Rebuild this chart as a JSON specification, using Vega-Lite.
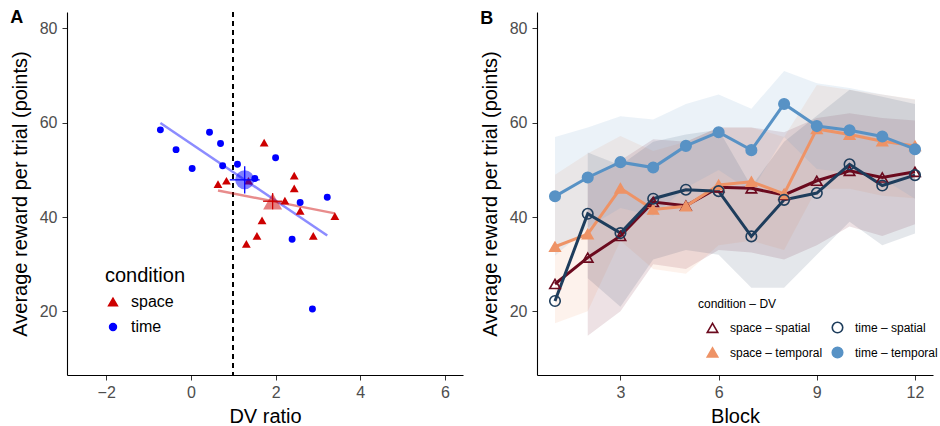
{
  "$schema": "https://vega.github.io/schema/vega-lite/v6.json",
  "padding": {"left": 10, "top": 9, "right": 0, "bottom": 0},
  "spacing": 17,
  "resolve": {
    "scale": {"color": "independent", "shape": "independent", "size": "independent", "fill": "independent", "stroke": "independent", "x": "independent", "y": "independent"},
    "legend": {"color": "independent", "shape": "independent", "size": "independent", "fill": "independent", "stroke": "independent"}
  },
  "config": {
    "font": "Liberation Sans",
    "view": {"stroke": null},
    "axis": {
      "grid": false,
      "domainColor": "black",
      "domainWidth": 1.1,
      "tickColor": "#333333",
      "tickSize": 5,
      "labelFontSize": 16,
      "labelColor": "#4d4d4d",
      "labelPadding": 4,
      "titleFontSize": 20,
      "titleFontWeight": "normal",
      "titleColor": "black"
    },
    "axisY": {"titlePadding": 9, "labelPadding": 5},
    "axisX": {"titlePadding": 6},
    "title": {"fontSize": 18, "fontWeight": "bold", "anchor": "start", "frame": "bounds", "offset": -16}
  },
  "hconcat": [
    {
      "title": "A",
      "width": 396,
      "height": 363,
      "data": {
        "values": [
          {"condition": "time", "ratio": -0.72, "reward": 58.5},
          {"condition": "time", "ratio": -0.35, "reward": 54.3},
          {"condition": "time", "ratio": 0.03, "reward": 50.3},
          {"condition": "time", "ratio": 0.44, "reward": 58.0},
          {"condition": "time", "ratio": 0.70, "reward": 55.6},
          {"condition": "time", "ratio": 0.75, "reward": 50.9},
          {"condition": "time", "ratio": 1.10, "reward": 51.2},
          {"condition": "time", "ratio": 1.51, "reward": 48.2},
          {"condition": "time", "ratio": 2.00, "reward": 52.6},
          {"condition": "time", "ratio": 2.58, "reward": 43.1},
          {"condition": "time", "ratio": 3.22, "reward": 44.2},
          {"condition": "time", "ratio": 2.39, "reward": 35.3},
          {"condition": "time", "ratio": 2.87, "reward": 20.5},
          {"condition": "space", "ratio": 0.64, "reward": 47.0},
          {"condition": "space", "ratio": 0.84, "reward": 47.7},
          {"condition": "space", "ratio": 1.36, "reward": 47.7},
          {"condition": "space", "ratio": 1.73, "reward": 55.8},
          {"condition": "space", "ratio": 2.44, "reward": 48.8},
          {"condition": "space", "ratio": 2.44, "reward": 46.1},
          {"condition": "space", "ratio": 2.22, "reward": 43.5},
          {"condition": "space", "ratio": 2.58, "reward": 41.3},
          {"condition": "space", "ratio": 3.40, "reward": 40.2},
          {"condition": "space", "ratio": 1.68, "reward": 39.3},
          {"condition": "space", "ratio": 1.56, "reward": 36.0},
          {"condition": "space", "ratio": 1.31, "reward": 34.3},
          {"condition": "space", "ratio": 2.89, "reward": 36.0}
        ]
      },
      "encoding": {
        "x": {
          "field": "ratio", "type": "quantitative", "title": "DV ratio",
          "scale": {"domain": [-2.925, 6.425], "nice": false, "zero": false},
          "axis": {"values": [-2, 0, 2, 4, 6]}
        },
        "y": {
          "field": "reward", "type": "quantitative", "title": "Average reward per trial (points)",
          "scale": {"domain": [6.5, 83.5], "nice": false, "zero": false},
          "axis": {"values": [20, 40, 60, 80]}
        },
        "color": {"field": "condition", "type": "nominal",
          "scale": {"domain": ["space", "time"], "range": ["#cd0000", "#0000ff"]},
          "legend": {
            "title": "condition", "orient": "none", "legendX": 38, "legendY": 254,
            "titleFontSize": 20, "titleFontWeight": "normal", "titleColor": "black",
            "labelFontSize": 16, "labelColor": "black",
            "symbolOpacity": 1, "rowPadding": 9, "titlePadding": 8, "labelOffset": 10
          }}
      },
      "layer": [
        {
          "mark": {"type": "rule", "strokeDash": [5, 4], "color": "black", "strokeWidth": 1.2},
          "encoding": {"x": {"datum": 1}, "y": null, "color": null}
        },
        {
          "transform": [{"regression": "reward", "on": "ratio", "groupby": ["condition"]}],
          "mark": {"type": "line", "strokeWidth": 2.5, "opacity": 0.45},
          "encoding": {}
        },
        {
          "mark": {"type": "point", "filled": true, "opacity": 1},
          "encoding": {
            "shape": {"field": "condition", "type": "nominal",
              "scale": {"domain": ["space", "time"], "range": ["triangle-up", "circle"]},
              "legend": {
                "title": "condition", "orient": "none", "legendX": 38, "legendY": 254,
                "titleFontSize": 20, "titleFontWeight": "normal", "titleColor": "black",
                "labelFontSize": 16, "labelColor": "black",
                "symbolOpacity": 1, "rowPadding": 9, "titlePadding": 8, "labelOffset": 10
              }},
            "size": {"field": "condition", "type": "nominal",
              "scale": {"domain": ["space", "time"], "range": [78, 48]},
              "legend": {
                "title": "condition", "orient": "none", "legendX": 38, "legendY": 254,
                "titleFontSize": 20, "titleFontWeight": "normal", "titleColor": "black",
                "labelFontSize": 16, "labelColor": "black",
                "symbolOpacity": 1, "rowPadding": 9, "titlePadding": 8, "labelOffset": 10
              }}
          }
        },
        {
          "transform": [{"aggregate": [
            {"op": "mean", "field": "ratio", "as": "mx"},
            {"op": "mean", "field": "reward", "as": "my"},
            {"op": "stderr", "field": "ratio", "as": "sx"},
            {"op": "stderr", "field": "reward", "as": "sy"}
          ], "groupby": ["condition"]}],
          "layer": [
            {
              "mark": {"type": "point", "filled": true, "size": 360, "opacity": 0.5},
              "encoding": {
                "x": {"field": "mx", "type": "quantitative"},
                "y": {"field": "my", "type": "quantitative"},
                "shape": {"field": "condition", "type": "nominal"}
              }
            },
            {
              "mark": {"type": "errorbar", "thickness": 1.3},
              "encoding": {
                "x": {"field": "mx", "type": "quantitative"},
                "y": {"field": "my", "type": "quantitative"},
                "yError": {"field": "sy"}
              }
            },
            {
              "mark": {"type": "errorbar", "thickness": 1.3},
              "encoding": {
                "y": {"field": "my", "type": "quantitative"},
                "x": {"field": "mx", "type": "quantitative"},
                "xError": {"field": "sx"}
              }
            }
          ]
        }
      ]
    },
    {
      "title": "B",
      "width": 396,
      "height": 363,
      "data": {
        "values": [
          {"block": 1, "series": "space – spatial", "reward": 25.8, "lo": null, "hi": null},
          {"block": 2, "series": "space – spatial", "reward": 31.4, "lo": 14.8, "hi": 48.0},
          {"block": 3, "series": "space – spatial", "reward": 36.0, "lo": 20.0, "hi": 52.0},
          {"block": 4, "series": "space – spatial", "reward": 43.2, "lo": 30.0, "hi": 56.5},
          {"block": 5, "series": "space – spatial", "reward": 42.4, "lo": 29.0, "hi": 56.0},
          {"block": 6, "series": "space – spatial", "reward": 46.3, "lo": 33.0, "hi": 59.0},
          {"block": 7, "series": "space – spatial", "reward": 46.1, "lo": 32.5, "hi": 59.0},
          {"block": 8, "series": "space – spatial", "reward": 44.7, "lo": 31.0, "hi": 58.0},
          {"block": 9, "series": "space – spatial", "reward": 47.7, "lo": 34.0, "hi": 61.0},
          {"block": 10, "series": "space – spatial", "reward": 49.8, "lo": 38.0, "hi": 62.0},
          {"block": 11, "series": "space – spatial", "reward": 48.4, "lo": 36.0, "hi": 61.0},
          {"block": 12, "series": "space – spatial", "reward": 49.6, "lo": 38.5, "hi": 60.5},
          {"block": 1, "series": "space – temporal", "reward": 33.7, "lo": 17.5, "hi": 49.0},
          {"block": 2, "series": "space – temporal", "reward": 36.4, "lo": 20.0, "hi": 53.5},
          {"block": 3, "series": "space – temporal", "reward": 46.1, "lo": 35.0, "hi": 57.2},
          {"block": 4, "series": "space – temporal", "reward": 41.6, "lo": 29.0, "hi": 54.0},
          {"block": 5, "series": "space – temporal", "reward": 42.3, "lo": 28.0, "hi": 56.0},
          {"block": 6, "series": "space – temporal", "reward": 46.8, "lo": 34.0, "hi": 59.0},
          {"block": 7, "series": "space – temporal", "reward": 47.5, "lo": 35.0, "hi": 59.0},
          {"block": 8, "series": "space – temporal", "reward": 44.9, "lo": 33.0, "hi": 57.0},
          {"block": 9, "series": "space – temporal", "reward": 58.7, "lo": 46.0, "hi": 68.0},
          {"block": 10, "series": "space – temporal", "reward": 57.5, "lo": 46.0, "hi": 67.0},
          {"block": 11, "series": "space – temporal", "reward": 56.1, "lo": 44.5, "hi": 66.0},
          {"block": 12, "series": "space – temporal", "reward": 55.1, "lo": 44.0, "hi": 65.0},
          {"block": 1, "series": "time – spatial", "reward": 22.2, "lo": null, "hi": null},
          {"block": 2, "series": "time – spatial", "reward": 40.7, "lo": 27.0, "hi": 53.7},
          {"block": 3, "series": "time – spatial", "reward": 36.6, "lo": 21.0, "hi": 51.0},
          {"block": 4, "series": "time – spatial", "reward": 43.9, "lo": 31.0, "hi": 56.0},
          {"block": 5, "series": "time – spatial", "reward": 45.8, "lo": 33.0, "hi": 57.5},
          {"block": 6, "series": "time – spatial", "reward": 45.5, "lo": 32.0, "hi": 58.5},
          {"block": 7, "series": "time – spatial", "reward": 35.9, "lo": 25.0, "hi": 46.5},
          {"block": 8, "series": "time – spatial", "reward": 43.65, "lo": 25.0, "hi": 56.0},
          {"block": 9, "series": "time – spatial", "reward": 45.1, "lo": 32.0, "hi": 61.5},
          {"block": 10, "series": "time – spatial", "reward": 51.2, "lo": 39.0, "hi": 67.0},
          {"block": 11, "series": "time – spatial", "reward": 46.7, "lo": 34.0, "hi": 65.5},
          {"block": 12, "series": "time – spatial", "reward": 48.9, "lo": 36.5, "hi": 64.0},
          {"block": 1, "series": "time – temporal", "reward": 44.4, "lo": 31.8, "hi": 57.0},
          {"block": 2, "series": "time – temporal", "reward": 48.4, "lo": 37.8, "hi": 59.0},
          {"block": 3, "series": "time – temporal", "reward": 51.65, "lo": 41.9, "hi": 61.4},
          {"block": 4, "series": "time – temporal", "reward": 50.5, "lo": 40.3, "hi": 60.7},
          {"block": 5, "series": "time – temporal", "reward": 55.1, "lo": 46.2, "hi": 64.0},
          {"block": 6, "series": "time – temporal", "reward": 58.0, "lo": 50.0, "hi": 66.0},
          {"block": 7, "series": "time – temporal", "reward": 54.2, "lo": 45.4, "hi": 63.0},
          {"block": 8, "series": "time – temporal", "reward": 64.0, "lo": 57.0, "hi": 71.0},
          {"block": 9, "series": "time – temporal", "reward": 59.3, "lo": 50.2, "hi": 68.4},
          {"block": 10, "series": "time – temporal", "reward": 58.4, "lo": 49.4, "hi": 67.4},
          {"block": 11, "series": "time – temporal", "reward": 57.1, "lo": 48.2, "hi": 66.0},
          {"block": 12, "series": "time – temporal", "reward": 54.4, "lo": 43.9, "hi": 64.9}
        ]
      },
      "encoding": {
        "x": {
          "field": "block", "type": "quantitative", "title": "Block",
          "scale": {"domain": [0.45, 12.55], "nice": false, "zero": false},
          "axis": {"values": [3, 6, 9, 12]}
        },
        "y": {"field": "reward", "type": "quantitative", "title": "Average reward per trial (points)",
          "scale": {"domain": [6.5, 83.5], "nice": false, "zero": false},
          "axis": {"values": [20, 40, 60, 80]}}
      },
      "layer": [
        {
          "transform": [{"filter": "datum.lo != null"}],
          "mark": {"type": "area", "opacity": 0.12},
          "encoding": {
            "y": {"field": "lo", "type": "quantitative"},
            "y2": {"field": "hi"},
            "color": {"field": "series", "type": "nominal", "legend": null,
              "scale": {"domain": ["time – temporal", "time – spatial", "space – temporal", "space – spatial"],
                "range": ["#5892c5", "#1e3d5c", "#ee9366", "#6b0a1e"]}}
          }
        },
        {
          "mark": {"type": "line", "strokeWidth": 3},
          "encoding": {
            "color": {"field": "series", "type": "nominal", "legend": null}
          }
        },
        {
          "mark": {"type": "point", "size": 110, "strokeWidth": 1.6, "opacity": 1},
          "encoding": {
            "stroke": {"field": "series", "type": "nominal",
              "scale": {"domain": ["space – spatial", "space – temporal", "time – spatial", "time – temporal"],
                "range": ["#6b0a1e", "#ee9366", "#1e3d5c", "#5892c5"]},
              "legend": {
                "title": "condition – DV", "orient": "none", "legendX": 161, "legendY": 287,
                "columns": 2, "columnPadding": -5, "rowPadding": 8,
                "titleFontSize": 12, "titleFontWeight": "normal", "titleColor": "black",
                "labelFontSize": 12, "labelColor": "black", "symbolSize": 110,
                "symbolStrokeWidth": 1.6, "symbolOpacity": 1, "symbolOffset": 8,
                "labelOffset": 11, "titlePadding": 10
              }},
            "fill": {"field": "series", "type": "nominal",
              "scale": {"domain": ["space – spatial", "space – temporal", "time – spatial", "time – temporal"],
                "range": ["transparent", "#ee9366", "transparent", "#5892c5"]},
              "legend": {
                "title": "condition – DV", "orient": "none", "legendX": 161, "legendY": 287,
                "columns": 2, "columnPadding": -5, "rowPadding": 8,
                "titleFontSize": 12, "titleFontWeight": "normal", "titleColor": "black",
                "labelFontSize": 12, "labelColor": "black", "symbolSize": 110,
                "symbolStrokeWidth": 1.6, "symbolOpacity": 1, "symbolOffset": 8,
                "labelOffset": 11, "titlePadding": 10
              }},
            "shape": {"field": "series", "type": "nominal",
              "scale": {"domain": ["space – spatial", "space – temporal", "time – spatial", "time – temporal"],
                "range": ["triangle-up", "triangle-up", "circle", "circle"]},
              "legend": {
                "title": "condition – DV", "orient": "none", "legendX": 161, "legendY": 287,
                "columns": 2, "columnPadding": -5, "rowPadding": 8,
                "titleFontSize": 12, "titleFontWeight": "normal", "titleColor": "black",
                "labelFontSize": 12, "labelColor": "black", "symbolSize": 110,
                "symbolStrokeWidth": 1.6, "symbolOpacity": 1, "symbolOffset": 8,
                "labelOffset": 11, "titlePadding": 10
              }}
          }
        }
      ]
    }
  ]
}
